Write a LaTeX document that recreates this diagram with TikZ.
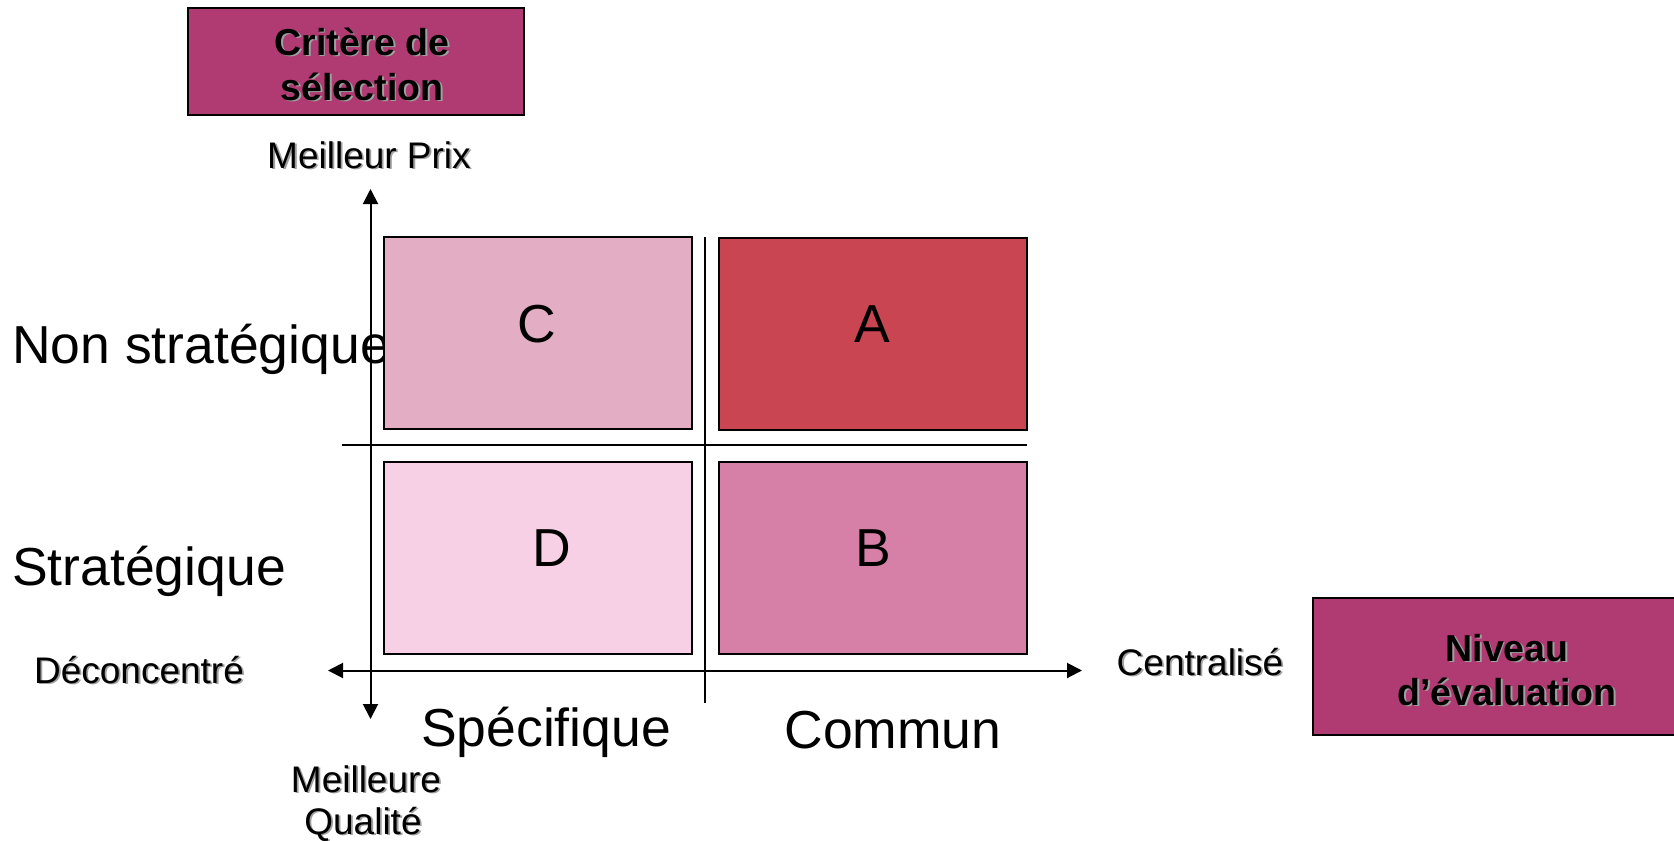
\documentclass[tikz,border=0pt]{standalone}
\usepackage{fontspec}
\setmainfont{Liberation Sans}
\usetikzlibrary{arrows.meta}

\definecolor{plum}{RGB}{176,58,114}
\definecolor{quadC}{RGB}{227,173,196}
\definecolor{quadA}{RGB}{201,69,82}
\definecolor{quadD}{RGB}{248,208,229}
\definecolor{quadB}{RGB}{214,128,168}
\definecolor{shadowgray}{RGB}{160,160,160}

% label with a soft grey drop shadow: name, style, position, text
\newcommand\shadowlabel[4]{%
  \node[#2,text=shadowgray,xshift=1.8pt,yshift=-1.8pt] (#1-sh) at (#3) {#4};
  \node[#2] (#1) at (#3) {#4};}

\begin{document}
\begin{tikzpicture}[x=1pt,y=-1pt,
  bigtxt/.style={font=\fontsize{53.5}{60}\selectfont,anchor=base,inner sep=0pt},
  smalltxt/.style={font=\fontsize{37}{43}\selectfont,anchor=base,inner sep=0pt},
  headtxt/.style={font=\bfseries\fontsize{37.5}{43}\selectfont,anchor=base,inner sep=0pt},
  headbox/.style={draw=black,line width=2pt,fill=plum},
  quad/.style={draw=black,line width=2pt,inner sep=0pt,minimum width=308pt,minimum height=192pt},
  axis/.style={line width=2pt,{Triangle[length=15pt,width=15pt]}-{Triangle[length=15pt,width=15pt]}},
  divider/.style={line width=1.8pt}]

\useasboundingbox (0,0) rectangle (1674,841);

% title boxes
\node[headbox,minimum width=336pt,minimum height=107pt,inner sep=0pt] (selbox) at (356,61.5) {};
\node[headbox,minimum width=386pt,minimum height=137pt,inner sep=0pt] (nivbox) at (1506,666.5) {};
\shadowlabel{sel1}{headtxt}{362,55}{Critère de}
\shadowlabel{sel2}{headtxt}{362,100}{sélection}
\shadowlabel{niv1}{headtxt}{1507,661}{Niveau}
\shadowlabel{niv2}{headtxt}{1507,705}{d’évaluation}

% row labels
\node[bigtxt,anchor=base west] (nonstrat) at (12,363) {Non stratégique};
\node[bigtxt,anchor=base west] (strat) at (12,585) {Stratégique};

% axes
\coordinate (ytop) at (370.5,189);
\coordinate (ybot) at (370.5,719);
\coordinate (xleft) at (328,670.5);
\coordinate (xright) at (1082,670.5);
\draw[axis] (ybot) -- (ytop);
\draw[axis] (xleft) -- (xright);

% dividers between the quadrants
\coordinate (vtop) at (705,237);
\coordinate (vbot) at (705,703);
\coordinate (hleft) at (342,445);
\coordinate (hright) at (1027,445);
\draw[divider] (vtop) -- (vbot);
\draw[divider] (hleft) -- (hright);

% quadrants
\node[quad,fill=quadC] (boxC) at (538,333) {};
\node[quad,fill=quadA] (boxA) at (873,333.5) {};
\node[quad,fill=quadD] (boxD) at (538,558) {};
\node[quad,fill=quadB] (boxB) at (873,558) {};
\node[bigtxt] (lblC) at (537,342) {C};
\node[bigtxt] (lblA) at (872,342) {A};
\node[bigtxt] (lblD) at (552,566) {D};
\node[bigtxt] (lblB) at (873,566) {B};

% column labels
\node[bigtxt] (spec) at (546,746) {Spécifique};
\node[bigtxt] (commun) at (893,748) {Commun};

% axis end labels
\shadowlabel{prix}{smalltxt}{369,168}{Meilleur Prix}
\shadowlabel{qual1}{smalltxt}{366,792}{Meilleure}
\shadowlabel{qual2}{smalltxt}{363,834}{Qualité}
\shadowlabel{decon}{smalltxt}{139,683}{Déconcentré}
\shadowlabel{central}{smalltxt}{1200,675}{Centralisé}
\end{tikzpicture}
\end{document}
